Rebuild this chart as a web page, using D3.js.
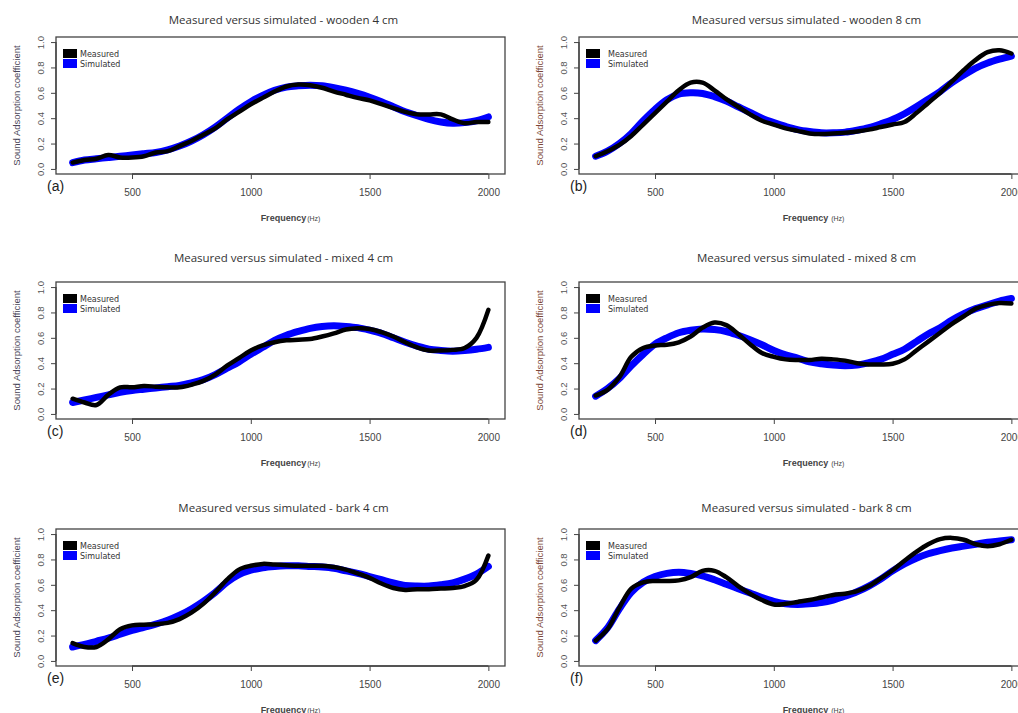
<!DOCTYPE html>
<html>
<head>
<meta charset="utf-8">
<script src="https://cdn.jsdelivr.net/npm/d3@7"></script>
<style>
  body { margin: 0; background: #fff; }
  svg { display: block; }
</style>
</head>
<body>
<svg id="graph"></svg>
<script>
// frequency grid shared by all panels (Hz)
var freq = [250,300,350,400,450,500,550,600,650,700,750,800,850,900,950,1000,
            1050,1100,1150,1200,1250,1300,1350,1400,1450,1500,1550,1600,1650,
            1700,1750,1800,1850,1900,1950,2000];

var titles = ["wooden 4 cm", "wooden 8 cm", "mixed 4 cm", "mixed 8 cm", "bark 4 cm", "bark 8 cm"];
var tags = ["(a)", "(b)", "(c)", "(d)", "(e)", "(f)"];
var xTicks = [500, 1000, 1500, 2000];
var yTicks = [0, 0.2, 0.4, 0.6, 0.8, 1.0];
var legendLabels = ["Measured", "Simulated"];

// measured values, one array per panel
var measA = [0.05,0.07,0.08,0.11,0.09,0.09,0.10,0.13,0.14,0.18,0.22,0.27,0.32,0.39,0.45,0.51,
             0.56,0.61,0.65,0.665,0.66,0.64,0.61,0.585,0.56,0.54,0.51,0.48,0.45,0.43,0.43,0.43,
             0.39,0.36,0.37,0.37];
var measB = [0.10,0.14,0.19,0.26,0.35,0.44,0.53,0.62,0.68,0.68,0.62,0.55,0.49,0.43,0.38,0.35,
             0.32,0.30,0.28,0.275,0.28,0.285,0.295,0.31,0.33,0.35,0.37,0.44,0.52,0.60,0.69,0.78,
             0.86,0.92,0.935,0.91];
var measC = [0.12,0.09,0.07,0.15,0.21,0.21,0.22,0.215,0.21,0.21,0.23,0.26,0.31,0.38,0.44,0.50,
             0.54,0.565,0.58,0.585,0.59,0.61,0.635,0.665,0.675,0.67,0.645,0.61,0.565,0.525,0.50,0.50,
             0.505,0.52,0.60,0.82];
var measD = [0.145,0.19,0.29,0.45,0.52,0.54,0.545,0.565,0.61,0.68,0.72,0.70,0.63,0.55,0.48,0.45,
             0.43,0.425,0.425,0.435,0.43,0.42,0.40,0.39,0.39,0.395,0.43,0.50,0.57,0.64,0.71,0.77,
             0.83,0.86,0.875,0.87];
var measE = [0.14,0.11,0.11,0.17,0.25,0.28,0.285,0.29,0.30,0.33,0.38,0.45,0.54,0.64,0.72,0.75,
             0.765,0.76,0.755,0.75,0.75,0.75,0.74,0.72,0.69,0.655,0.61,0.575,0.56,0.565,0.565,0.57,
             0.575,0.59,0.64,0.83];
var measF = [0.16,0.25,0.42,0.57,0.62,0.63,0.63,0.635,0.66,0.71,0.71,0.66,0.59,0.53,0.48,0.445,
             0.45,0.465,0.48,0.50,0.52,0.53,0.55,0.59,0.65,0.715,0.79,0.86,0.92,0.96,0.97,0.955,
             0.92,0.905,0.92,0.955];

// simulated values, one array per panel
var simA = [0.05,0.07,0.08,0.09,0.10,0.11,0.12,0.13,0.15,0.18,0.22,0.27,0.33,0.40,0.47,0.53,
            0.58,0.62,0.645,0.655,0.66,0.655,0.64,0.62,0.595,0.565,0.53,0.49,0.45,0.42,0.39,0.37,
            0.36,0.365,0.38,0.41];
var simB = [0.10,0.14,0.20,0.28,0.38,0.47,0.545,0.59,0.60,0.595,0.57,0.535,0.49,0.445,0.40,0.365,
            0.335,0.31,0.295,0.285,0.285,0.29,0.305,0.325,0.355,0.39,0.435,0.49,0.55,0.61,0.68,0.74,
            0.795,0.835,0.865,0.89];
var simC = [0.09,0.11,0.13,0.15,0.17,0.185,0.195,0.205,0.215,0.225,0.245,0.27,0.31,0.36,0.41,0.47,
            0.525,0.58,0.62,0.65,0.675,0.69,0.695,0.69,0.68,0.66,0.635,0.60,0.565,0.535,0.51,0.50,
            0.495,0.50,0.51,0.525];
var simD = [0.14,0.20,0.28,0.38,0.47,0.55,0.60,0.64,0.66,0.67,0.665,0.65,0.62,0.585,0.545,0.50,
            0.465,0.44,0.41,0.395,0.385,0.38,0.385,0.405,0.43,0.47,0.51,0.57,0.63,0.68,0.74,0.79,
            0.83,0.86,0.89,0.91];
var simE = [0.11,0.13,0.155,0.18,0.21,0.24,0.265,0.29,0.32,0.36,0.41,0.47,0.54,0.62,0.68,0.715,
            0.735,0.745,0.75,0.75,0.745,0.74,0.73,0.71,0.69,0.665,0.64,0.615,0.595,0.59,0.59,0.60,
            0.615,0.645,0.685,0.745];
var simF = [0.16,0.26,0.41,0.54,0.62,0.665,0.69,0.70,0.69,0.67,0.64,0.605,0.57,0.535,0.50,0.47,
            0.45,0.445,0.45,0.46,0.48,0.51,0.545,0.59,0.645,0.71,0.765,0.81,0.845,0.87,0.89,0.905,
            0.92,0.935,0.945,0.955];

var measured = [measA, measB, measC, measD, measE, measF];
var simulated = [simA, simB, simC, simD, simE, simF];

// page layout
var W = 1018, H = 713;
var colLeft = [56, 579];
var rowTop = [37, 282, 529];
var titleY = [24, 262, 512];
var boxW = 449, boxH = 137;
var yLabColor = ["#4a4658", "#7c4838"];

var svg = d3.select("#graph").attr("width", W).attr("height", H);

var font = "'Liberation Sans', Arial, sans-serif";

titles.forEach(function(t, i) {
    var col = i % 2, row = Math.floor(i / 2);
    var left = colLeft[col], top = rowTop[row];

    var x = d3.scaleLinear().domain([180, 2070]).range([left, left + boxW]);
    var y = d3.scaleLinear().domain([-0.04, 1.04]).range([top + boxH, top]);

    var g = svg.append("g");

    // title
    g.append("text")
        .attr("x", left + boxW / 2 + 3)
        .attr("y", titleY[row])
        .attr("text-anchor", "middle")
        .attr("style", "font: 11.5px 'Open Sans', sans-serif; fill:#333")
        .text("Measured versus simulated - " + t);

    // curves (simulated underneath, measured on top)
    var line = function(vals) {
        return d3.line()
            .x(function(d, k) { return x(freq[k]); })
            .y(function(d) { return y(d); })
            .curve(d3.curveCatmullRom.alpha(0.5))(vals);
    };
    g.append("path")
        .attr("d", line(simulated[i]))
        .attr("style", "fill:none; stroke:#0000ff; stroke-width:7; stroke-linecap:round; stroke-linejoin:round");
    g.append("path")
        .attr("d", line(measured[i]))
        .attr("style", "fill:none; stroke:#000; stroke-width:4.5; stroke-linecap:round; stroke-linejoin:round");

    // box
    g.append("rect")
        .attr("x", left).attr("y", top)
        .attr("width", boxW).attr("height", boxH)
        .attr("style", "fill:none; stroke:#444; stroke-width:1.3");

    // x axis
    var xa = g.append("g")
        .attr("transform", "translate(0," + (top + boxH) + ")")
        .call(d3.axisBottom(x).tickValues(xTicks).tickFormat(d3.format("d"))
            .tickSize(5).tickPadding(6).tickSizeOuter(0));
    xa.select(".domain").attr("stroke", "#444").attr("stroke-width", 1.3)
        .attr("d", "M" + x(500) + ",0H" + x(2000));
    xa.selectAll(".tick line").attr("stroke", "#444");
    xa.selectAll(".tick text")
        .attr("style", "font: 10px " + font + "; fill:#444")
        .attr("dy", "1.05em");

    // y axis
    var ya = g.append("g")
        .attr("transform", "translate(" + left + ",0)")
        .call(d3.axisLeft(y).tickValues(yTicks).tickSize(5).tickFormat(d3.format(".1f")));
    ya.select(".domain").attr("stroke", "#444").attr("stroke-width", 1.3)
        .attr("d", "M0," + y(0) + "V" + y(1));
    ya.selectAll(".tick line").attr("stroke", "#444");
    ya.selectAll(".tick text")
        .attr("x", 0).attr("dy", null)
        .attr("text-anchor", "middle")
        .attr("transform", "translate(-12,0) rotate(-90)")
        .attr("style", "font: 9.5px " + font + "; fill:#555");

    // panel tag
    g.append("text")
        .attr("x", left - 9).attr("y", top + boxH + 17)
        .attr("style", "font: 14px " + font + "; fill:#222")
        .text(tags[i]);

    // axis titles
    var fx = g.append("text")
        .attr("x", left + boxW / 2 + 10).attr("y", top + 184)
        .attr("text-anchor", "middle")
        .attr("style", "font: bold 9px " + font + "; fill:#444");
    fx.append("tspan").text("Frequency");
    fx.append("tspan").attr("style", "font: 7px " + font).attr("dx", col ? 3 : 1).text("(Hz)");

    g.append("text")
        .attr("transform", "translate(" + (left - 36) + "," + (top + boxH / 2) + ") rotate(-90)")
        .attr("text-anchor", "middle")
        .attr("style", "font: 9.5px " + font + "; fill:" + yLabColor[col])
        .text("Sound Adsorption coefficient");

    // legend
    var lg = g.append("g").attr("transform", "translate(" + (left + 7) + "," + (top + 12) + ")");
    lg.selectAll("rect").data(legendLabels).enter().append("rect")
        .attr("x", 0).attr("y", function(d, k) { return k * 10; })
        .attr("width", 14).attr("height", 9)
        .attr("fill", function(d, k) { return k ? "#0000ff" : "#000"; });
    lg.selectAll("text").data(legendLabels).enter().append("text")
        .attr("x", col ? 22 : 17).attr("y", function(d, k) { return k * 10 + 7.5; })
        .attr("style", "font: 8px 'DejaVu Sans', sans-serif; fill:#333")
        .text(function(d) { return d; });
});
</script>
</body>
</html>
